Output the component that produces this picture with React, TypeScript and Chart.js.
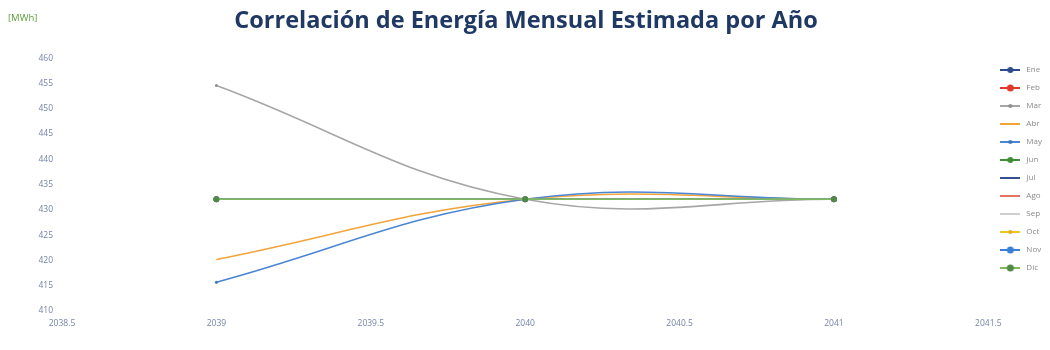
import React, { useEffect, useRef } from "react";
import { Chart, registerables } from "chart.js";

Chart.register(...registerables);

const years = [2039, 2040, 2041];
const months = ["Ene", "Feb", "Mar", "Abr", "May", "Jun", "Jul", "Ago", "Sep", "Oct", "Nov", "Dic"];

const ene = [432.1, 432.1, 432.1];
const feb = [432.1, 432.1, 432.1];
const mar = [454.6, 432.1, 432.1];
const abr = [420.2, 432.1, 432.1];
const may = [415.7, 432.1, 432.1];
const jun = [432.1, 432.1, 432.1];
const jul = [432.1, 432.1, 432.1];
const ago = [432.1, 432.1, 432.1];
const sep = [432.1, 432.1, 432.1];
const oct = [432.1, 432.1, 432.1];
const nov = [432.1, 432.1, 432.1];
const dic = [432.1, 432.1, 432.1];

const seriesValues = [ene, feb, mar, abr, may, jun, jul, ago, sep, oct, nov, dic];

const xTicks = [2038.5, 2039, 2039.5, 2040, 2040.5, 2041, 2041.5];
const xTickLabels = ["2038.5", "2039", "2039.5", "2040", "2040.5", "2041", "2041.5"];
const yTicks = [410, 415, 420, 425, 430, 435, 440, 445, 450, 455, 460];
const yTickLabels = ["410", "415", "420", "425", "430", "435", "440", "445", "450", "455", "460"];

const titleText = "Correlación de Energía Mensual Estimada por Año";
const unitLabel = "[MWh]";

const colors = [
  "#2c4a8c", "#e0392b", "#a6a6a6", "#f2a43a", "#4a86d4", "#3f8f35",
  "#34508f", "#e57462", "#cfcfcf", "#f3c321", "#3a7fd6", "#7dbb5e",
];
const markerRadius = [2.5, 3, 1.5, 0, 1.5, 2.5, 0, 0, 0, 1.5, 3, 3];
const markerFill = [
  "#2c4a8c", "#e0392b", "#8f8f8f", "#f2a43a", "#3d74c0", "#3f8f35",
  "#34508f", "#e57462", "#cfcfcf", "#e0b010", "#3a7fd6", "#4e8a43",
];

function makeLegendImage(color: string, fill: string, r: number) {
  const c = document.createElement("canvas");
  c.width = 20;
  c.height = 10;
  const ctx = c.getContext("2d")!;
  ctx.strokeStyle = color;
  ctx.lineWidth = 2;
  ctx.beginPath();
  ctx.moveTo(0, 5);
  ctx.lineTo(20, 5);
  ctx.stroke();
  if (r > 0) {
    ctx.fillStyle = fill;
    ctx.beginPath();
    ctx.arc(10, 5, r + 0.5, 0, Math.PI * 2);
    ctx.fill();
  }
  return c;
}

export default function App() {
  const ref = useRef<HTMLCanvasElement | null>(null);

  useEffect(() => {
    document.body.style.margin = "0";
    const canvas = ref.current!;
    const legendImages = months.map((_, i) => makeLegendImage(colors[i], markerFill[i], markerRadius[i]));

    const unitPlugin = {
      id: "unitLabel",
      afterDraw(chart: any) {
        const ctx = chart.ctx;
        ctx.save();
        ctx.font = "9.5px 'Open Sans'";
        ctx.fillStyle = "#5a9a3a";
        ctx.textAlign = "left";
        ctx.textBaseline = "middle";
        ctx.fillText(unitLabel, 8, 18);
        ctx.restore();
      },
    };

    const chart = new Chart(canvas, {
      type: "line",
      data: {
        datasets: months.map((m, i) => ({
          label: m,
          data: years.map((y, j) => ({ x: y, y: seriesValues[i][j] })),
          borderColor: colors[i],
          backgroundColor: markerFill[i],
          borderWidth: 1.6,
          pointRadius: markerRadius[i],
          pointBorderWidth: 0,
          pointBackgroundColor: markerFill[i],
          tension: 0.4,
          fill: false,
          order: months.length - i,
        })),
      },
      options: {
        animation: false,
        responsive: false,
        layout: { padding: { left: 0, right: -2, top: 0, bottom: 12 } },
        plugins: {
          title: {
            display: true,
            text: titleText,
            color: "#1f3864",
            font: { family: "'Open Sans'", size: 23.5, weight: "bold" },
            padding: { top: 7, bottom: 23 },
          },
          legend: {
            display: true,
            position: "right",
            labels: {
              usePointStyle: true,
              pointStyleWidth: 24,
              padding: 10,
              color: "#8a8a8a",
              font: { family: "'Open Sans'", size: 8 },
              sort: (a: any, b: any) => a.datasetIndex - b.datasetIndex,
              generateLabels: (ch: any) => {
                const items = (Chart.defaults.plugins.legend.labels as any).generateLabels(ch);
                items.forEach((it: any) => {
                  it.pointStyle = legendImages[it.datasetIndex];
                });
                return items;
              },
            },
          },
          tooltip: { enabled: false },
        },
        scales: {
          x: {
            type: "linear",
            min: xTicks[0],
            max: xTicks[xTicks.length - 1],
            grid: { display: false, drawTicks: false },
            border: { display: false },
            afterBuildTicks: (s: any) => {
              s.ticks = xTicks.map((v) => ({ value: v }));
            },
            afterFit: (s: any) => {
              s.height = 27;
            },
            ticks: {
              autoSkip: false,
              maxRotation: 0,
              padding: 7,
              color: "#7583a8",
              font: { family: "'Open Sans'", size: 8.5 },
              callback: (_v: any, idx: number) => xTickLabels[idx],
            },
          },
          y: {
            type: "linear",
            min: yTicks[0],
            max: yTicks[yTicks.length - 1],
            grid: { display: false, drawTicks: false },
            border: { display: false },
            afterBuildTicks: (s: any) => {
              s.ticks = yTicks.map((v) => ({ value: v }));
            },
            afterFit: (s: any) => {
              s.width = 62;
            },
            ticks: {
              autoSkip: false,
              padding: 9,
              color: "#7583a8",
              font: { family: "'Open Sans'", size: 8.5 },
              callback: (_v: any, idx: number) => yTickLabels[idx],
            },
          },
        },
      },
      plugins: [unitPlugin],
    } as any);

    return () => chart.destroy();
  }, []);

  return (
    <div style={{ width: 1050, height: 350 }}>
      <canvas ref={ref} width={1050} height={350} />
    </div>
  );
}
